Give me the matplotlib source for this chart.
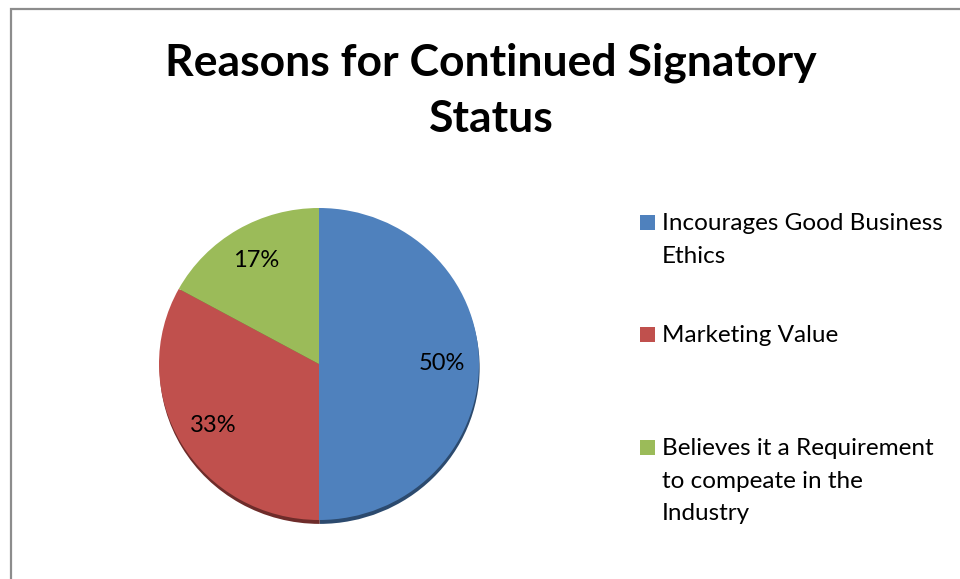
import matplotlib.pyplot as plt
from matplotlib.patches import Rectangle

categories = ['Incourages Good Business\nEthics',
              'Marketing Value',
              'Believes it a Requirement\nto compeate in the\nIndustry']
values = [50, 33, 17]
colors = ['#4F81BD', '#C0504D', '#9BBB59']
shadow_colors = ['#2C4A6E', '#6E2C2A', '#5A6E33']
title = 'Reasons for Continued Signatory\nStatus'

W, H = 960, 579
fig = plt.figure(figsize=(W / 100, H / 100), dpi=100)
plt.rcParams['font.family'] = ['Lato', 'DejaVu Sans']

# chart area border (runs off the right and bottom edges)
fig.patches.append(Rectangle((11 / W, -0.05), 1.2, 1 - 9 / H + 0.05,
                             transform=fig.transFigure, fill=False,
                             edgecolor='#8C8C8C', linewidth=1.6))

fig.text(491 / W, 1 - 91 / H, title, ha='center', va='center',
         fontsize=32, fontweight='bold', linespacing=1.5)

# pie axes
cx, cy, rx, ry = 319, 364, 160, 156
ax = fig.add_axes([(cx - rx) / W, (H - cy - ry) / H, 2 * rx / W, 2 * ry / H])

# soft drop shadow under the pie
ax.pie(values, colors=shadow_colors, startangle=90, counterclock=False,
       center=(0.004, -0.025), radius=1.0)
wedges, texts, autotexts = ax.pie(values, colors=colors, startangle=90,
                                  counterclock=False, autopct='%.0f%%',
                                  pctdistance=0.77,
                                  textprops={'fontsize': 17, 'color': 'black'})
ax.set_aspect('auto')
ax.set_xlim(-1, 1)
ax.set_ylim(-1, 1)
ax.axis('off')

# legend
leg_y = [223, 335, 448]
for w, lab, y in zip(wedges, categories, leg_y):
    fig.patches.append(Rectangle((640 / W, 1 - (y + 7) / H), 15 / W, 15 / H,
                                 transform=fig.transFigure,
                                 facecolor=w.get_facecolor(), edgecolor='none'))
    fig.text(662 / W, 1 - (y - 10) / H, lab, ha='left', va='top',
             fontsize=17.5, linespacing=1.68)

fig.savefig('out.png', dpi=100)
